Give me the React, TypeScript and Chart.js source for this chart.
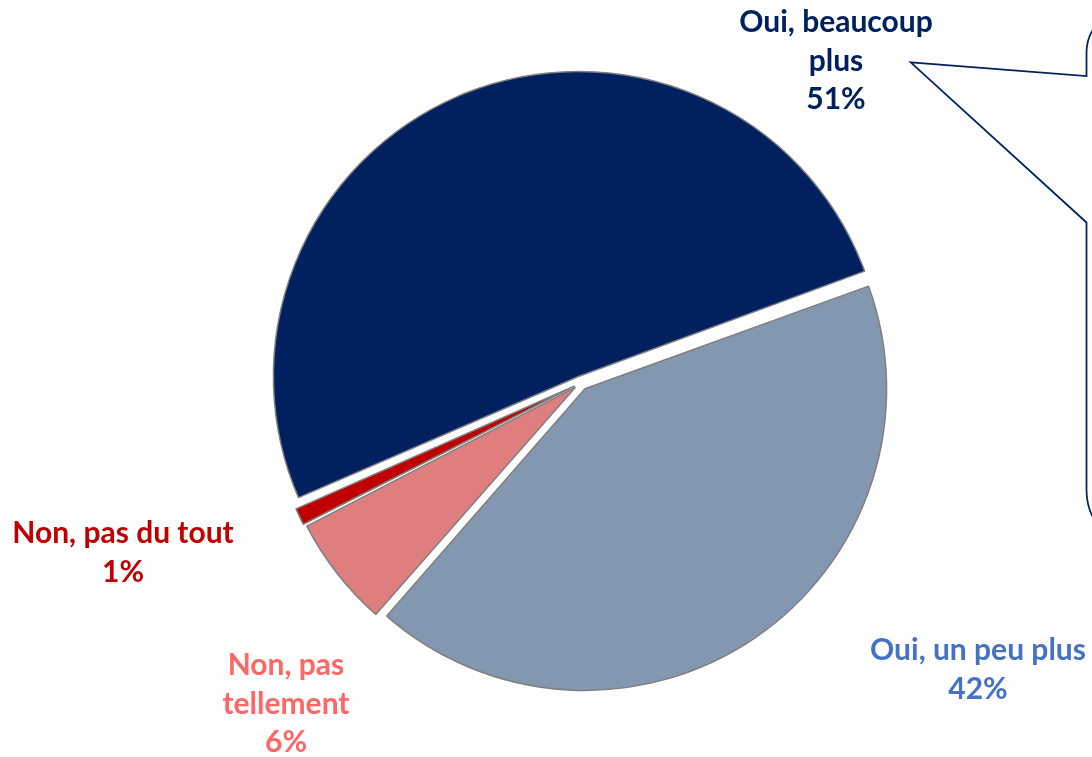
import React, { useEffect, useRef } from "react";
import { Chart, registerables } from "chart.js";

Chart.register(...registerables);

const categories = ["Oui, beaucoup plus", "Oui, un peu plus", "Non, pas tellement", "Non, pas du tout"];
const values = [51, 42, 6, 1];
const labelLines = [["Oui, beaucoup", "plus"], ["Oui, un peu plus"], ["Non, pas", "tellement"], ["Non, pas du tout"]];
const sliceColors = ["#002060", "#8497B0", "#DE7E7E", "#C00000"];
const labelColors = ["#002060", "#4472C4", "#FF6666", "#C00000"];

// label anchor: center x, first baseline y
const labelAnchors = [
  [836, 32],
  [978, 660],
  [286, 675],
  [123, 543],
];
const LINE_H = 38.5;
const FONT = "bold 30px Lato";

const calloutPlugin = {
  id: "callout",
  beforeDraw(chart: any) {
    const ctx = chart.ctx as CanvasRenderingContext2D;
    ctx.save();
    const x = 1086.5;
    const top = 8;
    const rTop = 45;
    const bottom = 550;
    const rBot = 60;
    ctx.beginPath();
    ctx.moveTo(x + rTop, top);
    ctx.arcTo(x, top, x, top + rTop, rTop);
    ctx.lineTo(x, 76);
    ctx.lineTo(910.7, 62.3);
    ctx.lineTo(x, 222.5);
    ctx.lineTo(x, bottom - rBot);
    ctx.arcTo(x, bottom, x + rBot, bottom, rBot);
    ctx.lineTo(1200, bottom);
    ctx.lineTo(1200, top);
    ctx.closePath();
    ctx.fillStyle = "#ffffff";
    ctx.fill();
    ctx.strokeStyle = "#002060";
    ctx.lineWidth = 1.75;
    ctx.stroke();
    ctx.restore();
  },
};

const labelPlugin = {
  id: "sliceLabels",
  afterDraw(chart: any) {
    const ctx = chart.ctx as CanvasRenderingContext2D;
    ctx.save();
    ctx.font = FONT;
    ctx.textAlign = "center";
    ctx.textBaseline = "alphabetic";
    values.forEach((v, i) => {
      const lines = [...labelLines[i], `${v}%`];
      const [cx, by] = labelAnchors[i];
      ctx.fillStyle = labelColors[i];
      lines.forEach((ln, j) => ctx.fillText(ln, cx, by + j * LINE_H));
    });
    ctx.restore();
  },
};

export default function App() {
  const ref = useRef<HTMLCanvasElement | null>(null);
  useEffect(() => {
    if (!ref.current) return;
    const chart = new Chart(ref.current, {
      type: "pie",
      data: {
        labels: categories,
        datasets: [
          {
            data: values,
            backgroundColor: sliceColors,
            borderColor: "#7F7F7F",
            borderWidth: 1.5,
            offset: 28,
          },
        ],
      },
      options: {
        responsive: false,
        animation: false,
        rotation: -113.6,
        radius: 298,
        layout: { padding: { left: 70, top: 9, right: 0, bottom: 0 } },
        plugins: {
          legend: { display: false },
          tooltip: { enabled: false },
        },
      },
      plugins: [calloutPlugin, labelPlugin],
    });
    return () => chart.destroy();
  }, []);
  return (
    <div style={{ position: "absolute", left: 0, top: 0, width: 1092, height: 757, background: "#fff" }}>
      <canvas ref={ref} width={1092} height={757} />
    </div>
  );
}
